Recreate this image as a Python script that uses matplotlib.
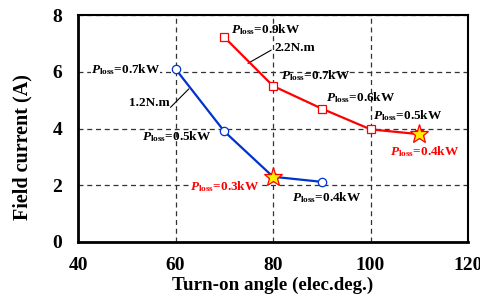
import matplotlib
matplotlib.use("Agg")
import matplotlib.pyplot as plt

plt.rcParams['font.family'] = ['Liberation Serif', 'DejaVu Serif']
plt.rcParams['font.weight'] = 'bold'
plt.rcParams['mathtext.fontset'] = 'custom'
plt.rcParams['mathtext.rm'] = 'Liberation Serif:bold'
plt.rcParams['mathtext.it'] = 'Liberation Serif:italic:bold'
plt.rcParams['mathtext.bf'] = 'Liberation Serif:bold'

# Data
angle_12 = [60, 70, 80, 90]
field_12 = [6.1, 3.9, 2.3, 2.12]
angle_22 = [70, 80, 90, 100, 110]
field_22 = [7.22, 5.5, 4.7, 3.97, 3.8]
star_angle = [80, 110]
star_field = [2.3, 3.8]

xticks = [40, 60, 80, 100, 120]
yticks = [0, 2, 4, 6, 8]

fig = plt.figure(figsize=(4.81, 2.94), dpi=100)
ax = fig.add_axes([78/481, 1-242/294, (468-78)/481, (242-15)/294])

ax.plot(angle_12, field_12, color='#0033cc', lw=1.6, zorder=3)
ax.plot(angle_12, field_12, 'o', ms=6, mfc='white', mec='#0033cc', mew=0.9, zorder=4)
ax.plot(angle_22, field_22, color='#ff0000', lw=1.6, zorder=3)
ax.plot(angle_22, field_22, 's', ms=6, mfc='white', mec='#ff0000', mew=0.9, zorder=4)
ax.plot(star_angle, star_field, '*', ms=14, mfc='#ffee00', mec='#ff0000', mew=0.9, zorder=5)

ax.set_xlim(40, 120)
ax.set_ylim(0, 8)
ax.set_xticks(xticks)
ax.set_yticks(yticks)
ax.tick_params(length=0, labelsize=14)
ax.tick_params(axis='x', pad=10.5)
ax.tick_params(axis='y', pad=11.5)
for lab in ax.get_xticklabels() + ax.get_yticklabels():
    lab.set_fontweight('bold')
ax.grid(True, ls=(0, (4, 3)), color='#333333', lw=0.9)
ax.set_axisbelow(True)
for s in ['left', 'bottom']:
    ax.spines[s].set_linewidth(2.0)
for s in ['top', 'right']:
    ax.spines[s].set_linewidth(1.5)

ax.set_xlabel('Turn-on angle (elec.deg.)', fontsize=13.7, fontweight='bold', labelpad=2)
ax.set_ylabel('Field current (A)', fontsize=14.5, fontweight='bold')
ax.yaxis.set_label_coords((22-78)/390, (242-147)/227)
ax.yaxis.label.set_va('center')

fs = 9.5
def P(v):
    return r'$P_{\rm loss}$=' + v + 'kW'

ax.text(71.4, 7.5, P('0.9'), fontsize=fs, color='black', va='center', ha='left')
ax.text(80.3, 6.83, '2.2N.m', fontsize=fs, color='black', va='center', ha='left')
ax.plot([74.9, 79.6], [6.3, 6.76], color='black', lw=0.8)
ax.text(81.6, 5.88, P('0.7'), fontsize=fs, color='black', va='center', ha='left')
ax.text(90.8, 5.1, P('0.6'), fontsize=fs, color='black', va='center', ha='left')
ax.text(100.6, 4.44, P('0.5'), fontsize=fs, color='black', va='center', ha='left')
ax.text(104.0, 3.2, P('0.4'), fontsize=fs, color='#ff0000', va='center', ha='left')

ax.text(56.9, 6.09, P('0.7'), fontsize=fs, color='black', va='center', ha='right',
        bbox=dict(fc='white', ec='none', pad=0))
ax.text(58.9, 4.89, '1.2N.m', fontsize=fs, color='black', va='center', ha='right')
ax.plot([59.0, 62.7], [4.75, 5.39], color='black', lw=0.8)
ax.text(67.3, 3.7, P('0.5'), fontsize=fs, color='black', va='center', ha='right')
ax.text(77.2, 1.94, P('0.3'), fontsize=fs, color='#ff0000', va='center', ha='right',
        bbox=dict(fc='white', ec='none', pad=0))
ax.text(83.9, 1.58, P('0.4'), fontsize=fs, color='black', va='center', ha='left')

fig.savefig('out.png', dpi=100)
